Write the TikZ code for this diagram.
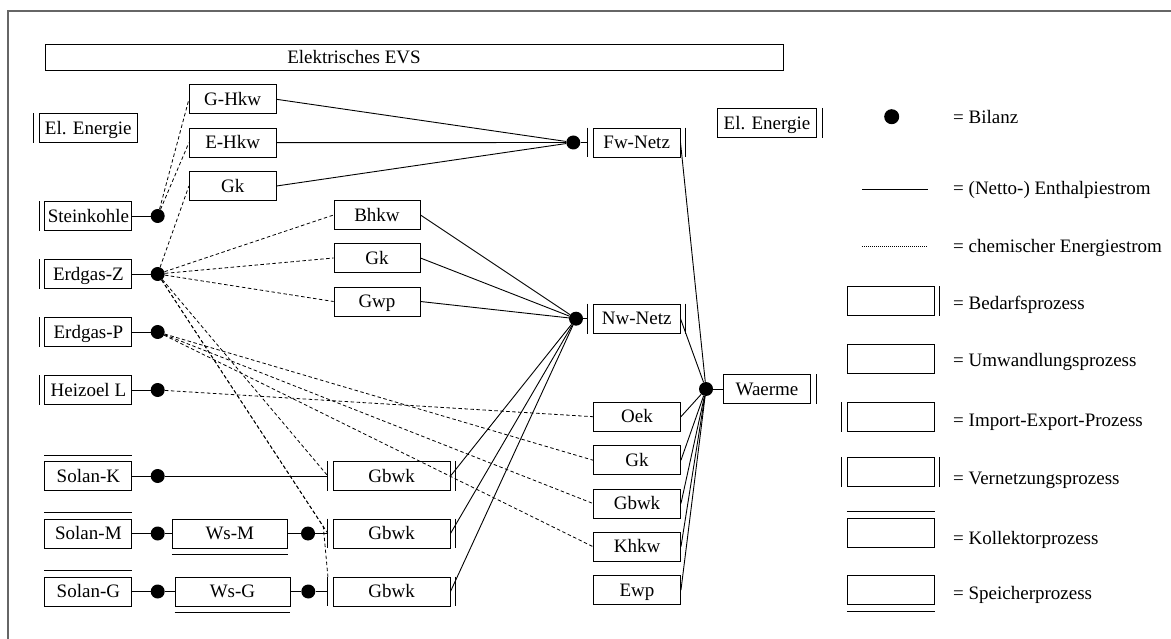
\documentclass[tikz,border=0pt]{standalone}
\usepackage{fontspec}
\setmainfont{Liberation Serif}
\usetikzlibrary{calc}
\newcommand\labelfont{\fontsize{19pt}{22pt}\selectfont}
% bars and rules that mark the process types
\newcommand\barW[1]{\draw[edge] ([xshift=-5pt]#1.north west) -- ([xshift=-5pt]#1.south west);}
\newcommand\barE[1]{\draw[edge] ([xshift=5pt]#1.north east) -- ([xshift=5pt]#1.south east);}
\newcommand\ruleN[1]{\draw[edge] ([yshift=6pt]#1.north west) -- ([yshift=6pt]#1.north east);}
\newcommand\ruleS[1]{\draw[edge] ([yshift=-6pt]#1.south west) -- ([yshift=-6pt]#1.south east);}
\tikzset{
  edge/.style={line width=0.9pt},
  proc/.style={draw, edge, rectangle, inner sep=0pt, minimum width=87pt,
    minimum height=29pt, text height=12.5pt, text depth=0pt, font=\labelfont},
  bal/.style={circle, fill, inner sep=0pt, minimum size=14pt},
  flow/.style={line width=0.9pt},
  chem/.style={line width=0.8pt, dash pattern=on 3.5pt off 2.5pt},
  legtext/.style={anchor=base west, inner sep=0pt, font=\labelfont},
}
\begin{document}
\begin{tikzpicture}[x=1pt, y=-1pt]
\useasboundingbox (0,0) rectangle (1171,639);
\fill[white] (0,0) rectangle (1171,639);
\draw[line width=1.3pt, black!60] (8,639) -- (8,11) -- (1171,11);

% electrical system box
\node[draw, edge, minimum width=738pt, minimum height=25.7pt, inner sep=0pt] (evs) at (414,57.2) {};
\node[font=\labelfont, inner sep=0pt, text height=12.5pt, text depth=0pt] (evstext) at (354,57.2) {Elektrisches EVS};

% sources
\node[proc, minimum width=98pt] (elL) at (88.3,128.2) {El. Energie};
\node[proc] (stein) at (88.4,216) {Steinkohle};
\node[proc] (ezg) at (88.4,274) {Erdgas-Z};
\node[proc] (ezp) at (88.4,332) {Erdgas-P};
\node[proc] (heiz) at (88.4,390) {Heizoel L};
\node[proc] (solK) at (88.4,476) {Solan-K};
\node[proc] (solM) at (88.4,533.5) {Solan-M};
\node[proc] (solG) at (88.4,591.5) {Solan-G};
\barW{elL} \barW{stein} \barW{ezg} \barW{ezp} \barW{heiz}
\ruleN{solK} \ruleN{solM} \ruleN{solG}

\node[bal] (sd) at (157.7,216) {};
\node[bal] (zd) at (157.7,274) {};
\node[bal] (pd) at (157.7,332) {};
\node[bal] (hd) at (157.7,390) {};
\node[bal] (kd) at (157.7,476) {};
\node[bal] (md) at (157.7,533.5) {};
\node[bal] (gd) at (157.7,591.5) {};

% storage
\node[proc, minimum width=115pt] (wsM) at (229.8,533.5) {Ws-M};
\node[proc, minimum width=115pt] (wsG) at (232.5,591.5) {Ws-G};
\ruleS{wsM} \ruleS{wsG}
\node[bal] (md2) at (308,533.5) {};
\node[bal] (gd2) at (308.3,591.5) {};

% district heating plants
\node[proc, minimum width=86.7pt] (ghkw) at (232.7,99.3) {G-Hkw};
\node[proc, minimum width=86.7pt] (ehkw) at (232.7,142.7) {E-Hkw};
\node[proc, minimum width=86.7pt] (gk1) at (232.7,186) {Gk};

% local heating plants
\node[proc, minimum width=86pt] (bhkw) at (377,215) {Bhkw};
\node[proc, minimum width=86pt] (gk2) at (377,258) {Gk};
\node[proc, minimum width=86pt] (gwp) at (377,301.5) {Gwp};

\node[proc, minimum width=116.7pt] (gbK) at (391.7,476) {Gbwk};
\node[proc, minimum width=116.7pt] (gbM) at (391.7,533.5) {Gbwk};
\node[proc, minimum width=116.7pt] (gbG) at (391.7,591.5) {Gbwk};
\barW{gbK} \barE{gbK} \barW{gbM} \barE{gbM} \barW{gbG} \barE{gbG}
\coordinate (gbKw) at ([xshift=-5pt]gbK.west);
\coordinate (gbMw) at ([xshift=-5pt]gbM.west);
\coordinate (gbGw) at ([xshift=-5pt]gbG.west);
\coordinate (gbGnw) at ([xshift=-5pt]gbG.north west);
\coordinate (bendG) at (323.3,526.7);

% networks
\node[proc, minimum width=86.7pt] (fw) at (636.7,142.5) {Fw-Netz};
\node[proc, minimum width=86.7pt] (nw) at (636.7,318.7) {Nw-Netz};
\barW{fw} \barE{fw} \barW{nw} \barE{nw}
\coordinate (fww) at ([xshift=-5pt]fw.west);
\coordinate (nww) at ([xshift=-5pt]nw.west);
\node[bal] (fwd) at (573.3,142.5) {};
\node[bal] (nwd) at (576,318.7) {};

% decentral heating
\node[proc] (oek) at (637,416.7) {Oek};
\node[proc] (gk3) at (637,460.2) {Gk};
\node[proc] (gbR) at (637,503.5) {Gbwk};
\node[proc] (khkw) at (637,546.7) {Khkw};
\node[proc] (ewp) at (637,590.2) {Ewp};

% demand
\node[proc, minimum width=87.4pt] (waerme) at (767,389) {Waerme};
\barE{waerme}
\node[bal] (wd) at (706,389) {};
\node[proc, minimum width=99.4pt] (elR) at (767,122.8) {El. Energie};
\barE{elR}

% chemical energy flows
\draw[chem] (sd) -- (ghkw.west);
\draw[chem] (sd) -- (ehkw.west);
\draw[chem] (zd) -- (gk1.west);
\draw[chem] (zd) -- (bhkw.west);
\draw[chem] (zd) -- (gk2.west);
\draw[chem] (zd) -- (gwp.west);
\draw[chem] (zd) -- (gbKw);
\draw[chem] (zd) -- (gbMw);
\draw[chem] (zd) -- (bendG) -- (gbGnw);
\draw[chem] (pd) -- (gk3.west);
\draw[chem] (pd) -- (gbR.west);
\draw[chem] (pd) -- (khkw.west);
\draw[chem] (hd) -- (oek.west);

% enthalpy flows
\foreach \s/\d in {stein/sd, ezg/zd, ezp/pd, heiz/hd, solK/kd, solM/md, solG/gd}
  \draw[flow] (\s.east) -- (\d);
\draw[flow] (kd) -- (gbKw);
\draw[flow] (md) -- (wsM.west);
\draw[flow] (wsM.east) -- (md2);
\draw[flow] (md2) -- (gbMw);
\draw[flow] (gd) -- (wsG.west);
\draw[flow] (wsG.east) -- (gd2);
\draw[flow] (gd2) -- (gbGw);

\foreach \s in {ghkw, ehkw, gk1} \draw[flow] (\s.east) -- (fwd);
\draw[flow] (fwd) -- (fww);
\foreach \s in {bhkw, gk2, gwp, gbK, gbM, gbG} \draw[flow] (\s.east) -- (nwd);
\draw[flow] (nwd) -- (nww);
\foreach \s in {fw, nw, oek, gk3, gbR, khkw, ewp} \draw[flow] (\s.east) -- (wd);
\draw[flow] (wd) -- (waerme.west);

% legend
\node[bal, minimum size=15pt] (lgdot) at (891.7,116.7) {};
\node[legtext] (lgt1) at (953,123.3) {= Bilanz};
\coordinate (lgs1) at (862.3,189);
\coordinate (lgs2) at (928.3,189);
\draw[flow] (lgs1) -- (lgs2);
\node[legtext] (lgt2) at (953,195) {= (Netto-) Enthalpiestrom};
\coordinate (lgc1) at (862.3,246.7);
\coordinate (lgc2) at (926.7,246.7);
\draw[line width=0.6pt, dash pattern=on 0.9pt off 1.1pt] (lgc1) -- (lgc2);
\node[legtext] (lgt3) at (953,252.3) {= chemischer Energiestrom};
\node[proc] (lb1) at (890.8,301.3) {};
\barE{lb1}
\node[legtext] (lgt4) at (953,310) {= Bedarfsprozess};
\node[proc] (lb2) at (890.8,359.2) {};
\node[legtext] (lgt5) at (953,366.7) {= Umwandlungsprozess};
\node[proc] (lb3) at (890.8,417) {};
\barW{lb3}
\node[legtext] (lgt6) at (953,426) {= Import-Export-Prozess};
\node[proc] (lb4) at (890.8,471.7) {};
\barW{lb4} \barE{lb4}
\node[legtext] (lgt7) at (953,484) {= Vernetzungsprozess};
\node[proc] (lb5) at (890.8,532.8) {};
\ruleN{lb5}
\node[legtext] (lgt8) at (953,544) {= Kollektorprozess};
\node[proc] (lb6) at (890.8,590) {};
\ruleS{lb6}
\node[legtext] (lgt9) at (953,599.3) {= Speicherprozess};
\end{tikzpicture}
\end{document}
